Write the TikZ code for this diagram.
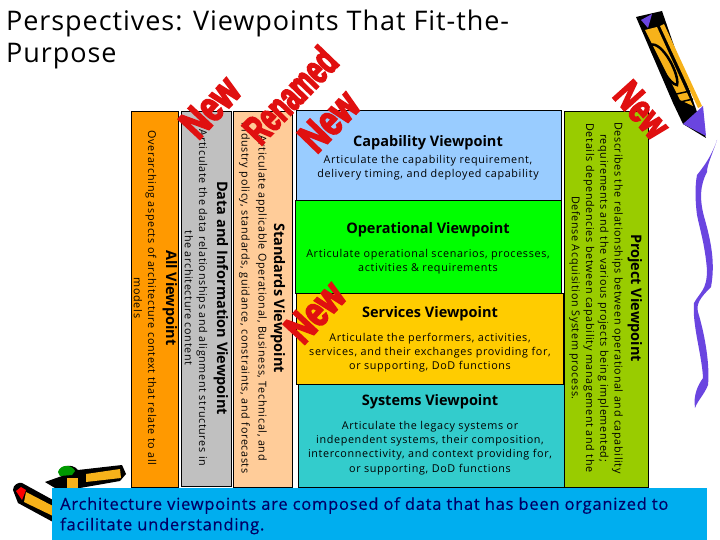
\documentclass[tikz,border=0pt]{standalone}
\usepackage{fontspec}
\setmainfont{Open Sans}
\usepackage{xcolor}
\usetikzlibrary{calc,shapes}
\definecolor{allfill}{HTML}{FF9900}
\definecolor{datafill}{HTML}{C0C0C0}
\definecolor{stdfill}{HTML}{FFCC99}
\definecolor{capfill}{HTML}{99CCFF}
\definecolor{opfill}{HTML}{00FF00}
\definecolor{svcfill}{HTML}{FFCC00}
\definecolor{sysfill}{HTML}{33CCCC}
\definecolor{prjfill}{HTML}{99CC00}
\definecolor{notefill}{HTML}{00AEEF}
\definecolor{notetext}{HTML}{000066}
\definecolor{stampred}{HTML}{E01010}
\definecolor{waveblue}{HTML}{6A45E0}
\definecolor{crayon}{HTML}{F7B21A}
\newfontfamily\stampfont[FakeBold=4,FakeStretch=.74]{Liberation Sans Bold}
\newfontfamily\renamedfont[FakeBold=4,FakeStretch=.62]{Liberation Sans Bold}
\newfontfamily\bodyfont[LetterSpace=6]{Open Sans}
\newfontfamily\titlefont[LetterSpace=3.5]{Open Sans}
\newfontfamily\notefont[LetterSpace=4.6,FakeBold=.4]{Open Sans}
\begin{document}
\begin{tikzpicture}[x=1pt, y=-1pt,
box/.style={draw, line width=0.9pt, anchor=north west, inner sep=0pt},
head/.style={font=\fontsize{14.5}{17}\selectfont\bfseries, inner sep=0pt},
body/.style={font=\bodyfont\fontsize{10.8}{14.3}\selectfont, align=center, inner sep=0pt},
down/.style={rotate=-90},
stamp/.style={font=\stampfont\fontsize{43}{43}\selectfont, text=stampred, inner sep=0pt}]
\useasboundingbox (0,0) rectangle (720,540);
\node[font=\titlefont\fontsize{27}{32}\selectfont, align=left, anchor=north west, inner sep=0pt] (title) at (6,10) {Perspectives: Viewpoints That Fit-the-\\Purpose};
\node[box, fill=allfill, minimum width=47pt, minimum height=376pt] (allbox) at (131,111) {};
\node[box, fill=datafill, minimum width=50pt, minimum height=375pt] (databox) at (181,111) {};
\node[box, fill=stdfill, minimum width=59pt, minimum height=376pt] (stdbox) at (233,111) {};
\node[box, fill=capfill, minimum width=265pt, minimum height=90pt] (capbox) at (296,110) {};
\node[box, fill=opfill, minimum width=266pt, minimum height=93pt] (opbox) at (295,200) {};
\node[box, fill=sysfill, minimum width=266pt, minimum height=103pt] (sysbox) at (298,384) {};
\node[box, fill=svcfill, minimum width=267pt, minimum height=91pt] (svcbox) at (296,293) {};
\node[box, fill=prjfill, minimum width=84pt, minimum height=376pt] (prjbox) at (564,111) {};
\node[head, down] (allhead) at (170,298) {All Viewpoint};
\node[body, down] (alltext) at (145,298) {Overarching aspects of architecture context that relate to all\\models};
\node[head, down] (datahead) at (221,298) {Data and Information Viewpoint};
\node[body, down] (datatext) at (196,298) {Articulate the data relationships and alignment structures in\\the architecture content};
\node[head, down] (stdhead) at (278,298) {Standards Viewpoint};
\node[body, font=\bodyfont\fontsize{10.8}{17}\selectfont, down] (stdtext) at (253,298) {Articulate applicable Operational, Business, Technical, and\\industry policy, standards, guidance, constraints, and forecasts};
\node[head, down] (prjhead) at (635,298) {Project Viewpoint};
\node[body, down] (prjtext) at (596,298) {Describes the relationships between operational and capability\\requirements and the various projects being implemented;\\Details dependencies between capability management and the\\Defense Acquisition System process.};
\node[head] (caphead) at (428,143) {Capability Viewpoint};
\node[body] (captext) at (428,168) {Articulate the capability requirement,\\delivery timing, and deployed capability};
\node[head] (ophead) at (428,230) {Operational Viewpoint};
\node[body] (optext) at (428,262) {Articulate operational scenarios, processes,\\activities \& requirements};
\node[head] (svchead) at (430,314) {Services Viewpoint};
\node[body] (svctext) at (430,352.5) {Articulate the performers, activities,\\services, and their exchanges providing for,\\or supporting, DoD functions};
\node[head] (syshead) at (430,402) {Systems Viewpoint};
\node[body] (systext) at (430,448) {Articulate the legacy systems or\\independent systems, their composition,\\interconnectivity, and context providing for,\\or supporting, DoD functions};
\node[stamp, rotate=47] (newdata) at (210,107) {New};
\node[stamp, font=\renamedfont\fontsize{41}{41}\selectfont, rotate=46] (renamed) at (290,95) {Renamed};
\node[stamp, rotate=46] (newcap) at (329,121) {New};
\node[stamp, rotate=47] (newsvc) at (315,312) {New};
\node[stamp, font=\stampfont\fontsize{40}{40}\selectfont, rotate=-48] (newprj) at (642,110) {New};
% crayon, top right
\fill (636,17) -- (662,11) -- (706,138) -- (683,124) -- (673,103) -- cycle;
\fill[crayon] (664,24) -- (702,106) -- (698,108) -- (660,26) -- cycle;
\fill[crayon] (645,30) -- (657,27) -- (693,106) -- (680,100) -- cycle;
\draw[line width=2.5pt] (650,45) .. controls (655,60) and (670,85) .. (677,85) .. controls (680,75) and (662,40) .. (650,45);
\draw[line width=1.5pt] (672,95) -- (690,91) (676,103) -- (693,99);
\fill[waveblue] (683,124) -- (703,106) -- (706,136) -- cycle;
\fill[waveblue] (641,20) -- (652,14) -- (648,28) -- cycle;
% wavy line
\fill[waveblue] (717,140) .. controls (712,155) and (707,165) .. (707,172) .. controls (700,185) and (699,200) .. (705,220) .. controls (712,245) and (715,265) .. (711,287) .. controls (700,298) and (696,304) .. (698,312) .. controls (705,335) and (710,365) .. (708,385) .. controls (704,395) and (698,400) .. (695,408) .. controls (693,395) and (698,385) .. (703,378) .. controls (702,355) and (692,325) .. (694,303) .. controls (700,292) and (707,290) .. (707,270) .. controls (705,245) and (700,230) .. (697,215) .. controls (695,200) and (695,185) .. (697,175) .. controls (705,165) and (712,155) .. (717,140) -- cycle;
% pencils, bottom left
\fill (45,482) -- (62,476) .. controls (56,466) and (72,462) .. (78,470) -- (122,465) -- (126,474) -- (120,481) -- (80,488) -- (55,488) -- cycle;
\fill[crayon] (86,474) -- (120,469) -- (121,478) -- (86,482) -- cycle;
\fill[green!60!black] (58,472) .. controls (60,464) and (72,464) .. (75,471) -- (72,475) -- (60,476) -- cycle;
\fill[crayon] (67,478) -- (78,478) -- (78,488) -- (67,488) -- cycle;
\fill (13,490) .. controls (13,485) and (18,482) .. (22,483) -- (53,500) -- (53,522) -- (18,503) -- cycle;
\fill[crayon] (26,492) -- (53,506) -- (53,516) -- (24,502) -- cycle;
\fill[red] (16,491) -- (21,487) -- (26,490) -- (22,500) -- cycle;
% note at the foot
\node[box, draw=none, fill=notefill, minimum width=655pt, minimum height=52pt] (notebox) at (52,488) {};
\node[font=\notefont\fontsize{16.5}{20.5}\selectfont, text=notetext, align=left, anchor=north west, inner sep=0pt] (notetext) at (60,497) {Architecture viewpoints are composed of data that has been organized to\\facilitate understanding.};
\end{tikzpicture}
\end{document}
